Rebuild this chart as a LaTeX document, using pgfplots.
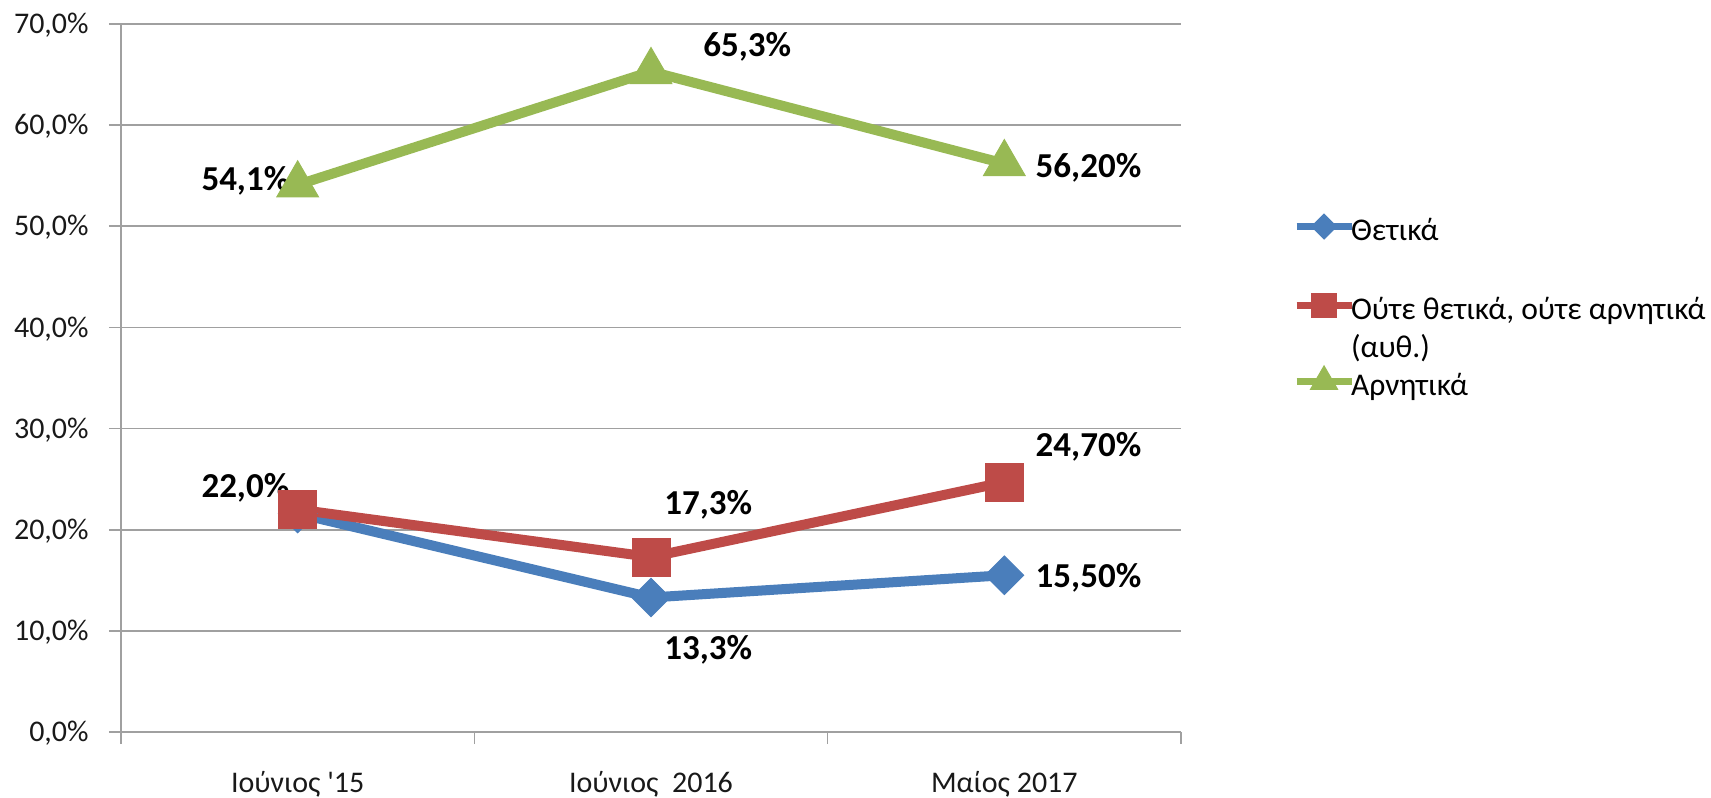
\documentclass[border=0pt]{standalone}
\usepackage{pgfplots}
\pgfplotsset{compat=1.18}
\usepackage{fontspec}
\setmainfont{Carlito}
\definecolor{cblue}{HTML}{4A7EBB}
\definecolor{cred}{HTML}{BE4B48}
\definecolor{cgreen}{HTML}{98B954}
\definecolor{cgrid}{HTML}{A0A0A0}
\tikzset{lbl/.style={font=\fontsize{17.5}{20}\selectfont\bfseries, inner sep=0pt, text=black}}
\begin{document}
\begin{tikzpicture}
\useasboundingbox (-60.5pt,-32.5pt) rectangle (795pt,366pt);
\begin{axis}[
  at={(0,0)}, anchor=south west,
  scale only axis, width=530pt, height=354pt,
  xmin=-0.5, xmax=2.5, ymin=0, ymax=70,
  axis lines=left,
  axis line style={-, cgrid, line width=0.8pt},
  ymajorgrids, grid style={cgrid, line width=0.8pt},
  tick style={cgrid, line width=0.8pt},
  tick align=outside, major tick length=6pt,
  ytick={0,10,20,30,40,50,60,70},
  yticklabels={{0,0\%},{10,0\%},{20,0\%},{30,0\%},{40,0\%},{50,0\%},{60,0\%},{70,0\%}},
  yticklabel style={anchor=base east, inner sep=0pt, xshift=-10pt, yshift=-4.85pt},
  xtick={-0.5,0.5,1.5,2.5}, xticklabels={},
  extra x ticks={0,1,2},
  extra x tick labels={Ιούνιος \textquotesingle15, Ιούνιος\ \ 2016, Μαίος 2017},
  extra x tick style={major tick length=0pt, xticklabel style={anchor=base, inner sep=0pt, yshift=-30pt}},
  tick label style={font=\fontsize{15}{18}\selectfont, text=black!90},
  legend style={at={(1.1057,0.7316)}, anchor=north west, draw=none, fill=none,
    inner sep=0pt, outer sep=0pt, row sep=0pt, column sep=-2pt,
    font=\fontsize{15.8}{19}\selectfont,
    nodes={inner sep=0pt, text height=12pt, text depth=7.25pt}},
  legend cell align=left,
  legend image code/.code={
    \draw[mark repeat=2, mark phase=2, #1, line width=3.5pt,
      /tikz/every mark/.append style={scale=0.65}]
      plot coordinates {(0pt,4.5pt) (13.75pt,4.5pt) (27.5pt,4.5pt)};
  },
]
\addplot[cblue, line width=5pt, mark=square*, mark size=6.8pt,
  mark options={solid, rotate=45, line width=0.5pt, fill=cblue, draw=cblue}]
  coordinates {(0,21.6) (1,13.3) (2,15.5)};
\addlegendentry{Θετικά}
\addlegendimage{empty legend}
\addlegendentry{}
\addplot[cred, line width=5pt, mark=square*, mark size=9.5pt,
  mark options={solid, line width=0.5pt, fill=cred, draw=cred, rounded corners=2.5pt}]
  coordinates {(0,22.0) (1,17.3) (2,24.7)};
\addlegendentry{Ούτε θετικά, ούτε αρνητικά}
\addlegendimage{empty legend}
\addlegendentry[text depth=4pt]{(αυθ.)}
\addplot[cgreen, line width=5pt, mark=triangle*, mark size=12pt,
  mark options={solid, line width=0.5pt, fill=cgreen, draw=cgreen, rounded corners=2.5pt}]
  coordinates {(0,54.1) (1,65.3) (2,56.2)};
\addlegendentry{Αρνητικά}
\node[lbl, anchor=base east, xshift=-4pt, yshift=-2.6pt] at (axis cs:0,54.1) {54,1\%};
\node[lbl, anchor=base west, xshift=26pt, yshift=7.4pt] at (axis cs:1,65.3) {65,3\%};
\node[lbl, anchor=base west, xshift=15.5pt, yshift=-7.2pt] at (axis cs:2,56.2) {56,20\%};
\node[lbl, anchor=base east, xshift=-4pt, yshift=5.75pt] at (axis cs:0,22.0) {22,0\%};
\node[lbl, anchor=base west, xshift=6.5pt, yshift=21.5pt] at (axis cs:1,17.3) {17,3\%};
\node[lbl, anchor=base west, xshift=15.5pt, yshift=13pt] at (axis cs:2,24.7) {24,70\%};
\node[lbl, anchor=base west, xshift=6.5pt, yshift=-31pt] at (axis cs:1,13.3) {13,3\%};
\node[lbl, anchor=base west, xshift=15.5pt, yshift=-6pt] at (axis cs:2,15.5) {15,50\%};
\end{axis}
\end{tikzpicture}
\end{document}
